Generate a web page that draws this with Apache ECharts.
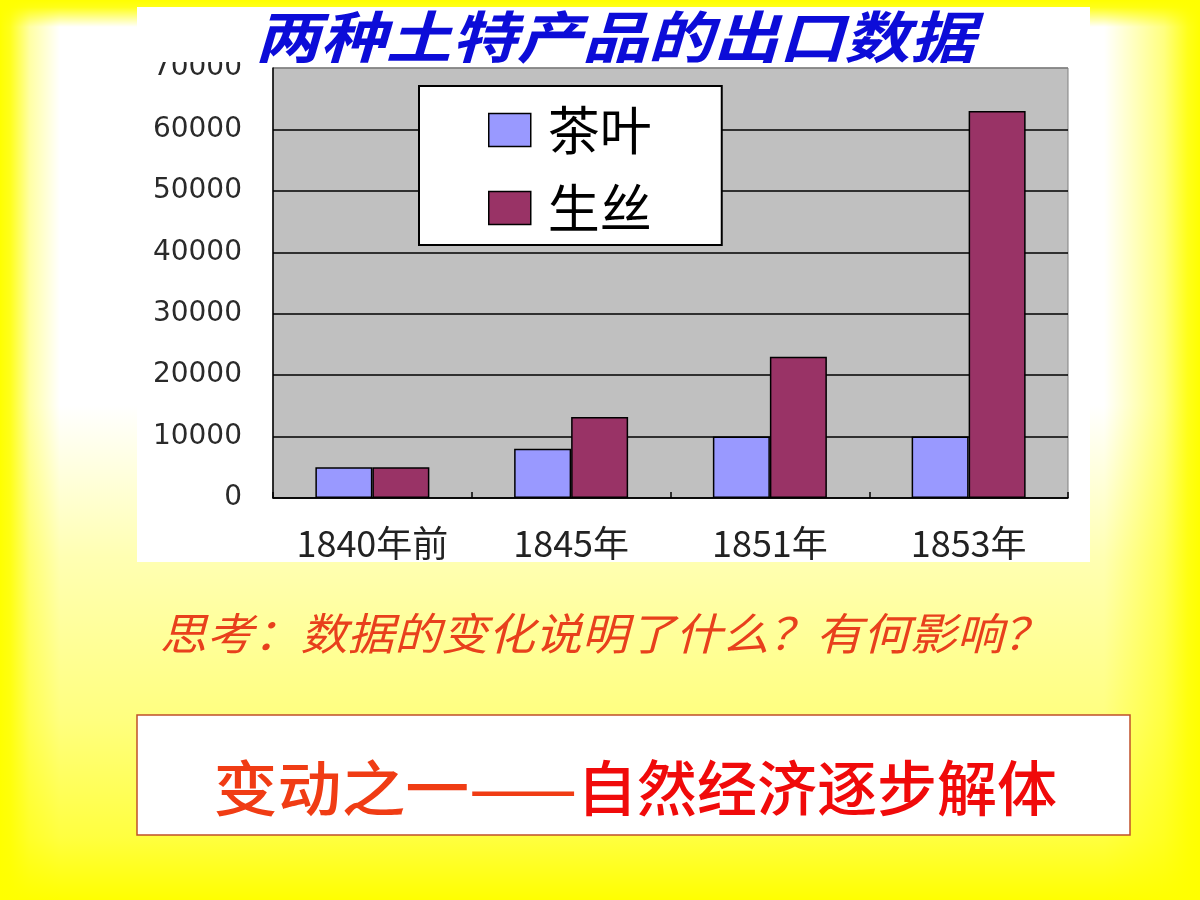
<!DOCTYPE html>
<html>
<head>
<meta charset="utf-8">
<style>
html,body{margin:0;padding:0;background:#fff;}
#main{width:1200px;height:900px;}
</style>
<script src="https://cdn.jsdelivr.net/npm/echarts@6/dist/echarts.min.js"></script>
</head>
<body>
<div id="main"></div>
<script>
// ---- data ----
var categories = ['1840年前', '1845年', '1851年', '1853年'];
var teaValues = [5000, 8000, 10000, 10000];
var silkValues = [5000, 13200, 23000, 63000];
var seriesNames = ['茶叶', '生丝'];
var yTicks = [0, 10000, 20000, 30000, 40000, 50000, 60000, 70000];
var titleText = '两种土特产品的出口数据';
var questionText = '思考：数据的变化说明了什么？有何影响？';
var conclusionPart1 = '变动之一——';
var conclusionPart2 = '自然经济逐步解体';

var chart = echarts.init(document.getElementById('main'), null, {renderer: 'canvas'});

var Y = 'rgba(255,255,0,';
var option = {
  backgroundColor: '#ffffff',
  animation: false,
  graphic: [
    { type: 'rect', z: -100, shape: {x: 0, y: 0, width: 1200, height: 900},
      style: { fill: new echarts.graphic.LinearGradient(0, 0, 1, 0, [
        {offset: 0, color: Y + '1)'}, {offset: 0.008, color: Y + '0.9)'},
        {offset: 0.025, color: Y + '0.35)'}, {offset: 0.05, color: Y + '0)'},
        {offset: 0.92, color: Y + '0)'}, {offset: 0.97, color: Y + '0.5)'},
        {offset: 0.99, color: Y + '0.9)'}, {offset: 1, color: Y + '1)'}]) } },
    { type: 'rect', z: -99, shape: {x: 0, y: 0, width: 1200, height: 900},
      style: { fill: new echarts.graphic.LinearGradient(0, 0, 0, 1, [
        {offset: 0, color: Y + '1)'}, {offset: 0.008, color: Y + '0.9)'},
        {offset: 0.03, color: Y + '0)'}, {offset: 0.45, color: Y + '0)'},
        {offset: 0.62, color: Y + '0.3)'}, {offset: 0.8, color: Y + '0.5)'},
        {offset: 0.93, color: Y + '0.75)'}, {offset: 1, color: Y + '1)'}]) } },
    // white chart panel
    { type: 'rect', z: -90, shape: {x: 137, y: 7, width: 953, height: 555},
      style: { fill: '#ffffff' } },
    // title cover (white text box over top of chart)
    { type: 'rect', z: 50, shape: {x: 137, y: 7, width: 953, height: 55},
      style: { fill: '#ffffff' } },
    { type: 'text', z: 51, x: 615, y: 37, scaleX: 1.17,
      style: { text: titleText, x: 0, y: 0, align: 'center', verticalAlign: 'middle',
        fontSize: 56, fontWeight: 'bold', fontStyle: 'italic',
        fontFamily: '"Noto Sans CJK SC", sans-serif', fill: '#0c0cd8' } },
    // question text
    { type: 'text', z: 51, x: 605, y: 633, scaleX: 1.065,
      style: { text: questionText, x: 0, y: 0, align: 'center', verticalAlign: 'middle',
        fontSize: 44, fontStyle: 'italic',
        fontFamily: '"Noto Sans CJK SC", sans-serif', fill: '#e8401c' } },
    // conclusion box
    { type: 'rect', z: 40, shape: {x: 137, y: 715, width: 993, height: 120},
      style: { fill: '#ffffff', stroke: '#c0502a', lineWidth: 1.5 } },
    { type: 'text', z: 51, x: 577, y: 788, scaleX: 1.065,
      style: { text: conclusionPart1, x: 0, y: 0, align: 'right', verticalAlign: 'middle',
        fontSize: 60, fontWeight: 500,
        fontFamily: '"Noto Sans CJK SC", sans-serif', fill: '#f03c14' } },
    { type: 'text', z: 51, x: 577, y: 788,
      style: { text: conclusionPart2, x: 0, y: 0, align: 'left', verticalAlign: 'middle',
        fontSize: 60, fontWeight: 500,
        fontFamily: '"Noto Sans CJK SC", sans-serif', fill: '#f00a0a' } }
  ],
  legend: {
    data: seriesNames,
    orient: 'vertical',
    left: 419, top: 86,
    backgroundColor: '#ffffff',
    borderColor: '#000000', borderWidth: 2,
    padding: [18, 70, 11, 69],
    itemWidth: 42, itemHeight: 33, itemGap: 26,
    icon: 'rect',
    itemStyle: { borderColor: '#000000', borderWidth: 1.5 },
    textStyle: { fontSize: 52, lineHeight: 52, color: '#000000',
      fontFamily: '"Noto Sans CJK SC", sans-serif', padding: [0, 0, 0, 12] }
  },
  grid: { left: 273, right: 132, top: 68, bottom: 402,
    show: true, backgroundColor: '#c0c0c0', borderColor: '#808080', borderWidth: 1 },
  xAxis: {
    type: 'category', data: categories,
    axisLine: { show: true, lineStyle: { color: '#000000', width: 1.5 } },
    axisTick: { show: true, inside: true, length: 6, lineStyle: { color: '#000000', width: 1.5 } },
    axisLabel: { margin: 27, fontSize: 36, color: '#222222',
      fontFamily: '"Noto Sans CJK SC", sans-serif' },
    splitLine: { show: false }
  },
  yAxis: {
    type: 'value', min: yTicks[0], max: yTicks[yTicks.length - 1], interval: 10000,
    axisLine: { show: true, lineStyle: { color: '#000000', width: 1.5 } },
    axisTick: { show: false },
    axisLabel: { margin: 31, fontSize: 28, color: '#2a2a2a',
      fontFamily: '"DejaVu Sans", sans-serif',
      formatter: function (v) { return String(v); } },
    splitLine: { show: true, lineStyle: { width: 1.5,
      color: ['#000000', '#000000', '#000000', '#000000', '#000000', '#000000', '#000000', '#808080'] } }
  },
  series: [
    { name: seriesNames[0], type: 'bar', data: teaValues, barWidth: 57, barGap: '0%',
      itemStyle: { color: '#9999ff', borderColor: '#000000', borderWidth: 1.5 } },
    { name: seriesNames[1], type: 'bar', data: silkValues, barWidth: 57, barGap: '0%',
      itemStyle: { color: '#993366', borderColor: '#000000', borderWidth: 1.5 } }
  ]
};
chart.setOption(option);
</script>
</body>
</html>
